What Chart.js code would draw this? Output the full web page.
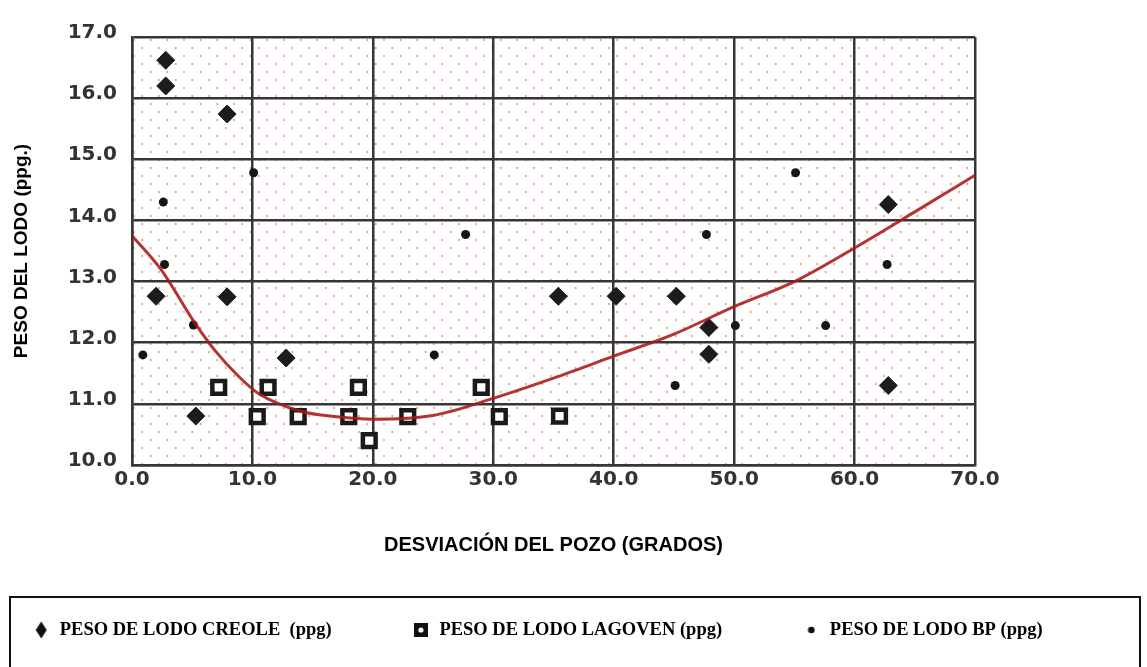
<!DOCTYPE html>
<html>
<head>
<meta charset="utf-8">
<title>Peso del lodo vs desviación del pozo</title>
<script src="https://cdn.jsdelivr.net/npm/chart.js@4/dist/chart.umd.min.js"></script>
<style>
html, body { margin: 0; padding: 0; background: #fff; }
</style>
</head>
<body>
<canvas id="chart" width="1147" height="667"></canvas>
<script>
// datos
const creole_x = [2.8, 2.8, 7.9, 2.0, 7.9, 12.8, 5.3, 35.4, 40.2, 45.2, 47.9, 47.9, 62.8, 62.8];
const creole_y = [16.62, 16.2, 15.74, 12.76, 12.75, 11.75, 10.8, 12.76, 12.76, 12.76, 12.25, 11.81, 14.26, 11.3];

const lagoven_x = [7.2, 11.3, 18.8, 29.0, 10.4, 13.8, 18.0, 22.9, 30.5, 19.7, 35.5];
const lagoven_y = [11.27, 11.27, 11.27, 11.27, 10.79, 10.79, 10.79, 10.79, 10.79, 10.4, 10.8];

const bp_x = [0.9, 2.6, 2.7, 5.1, 10.1, 25.1, 27.7, 45.1, 47.7, 50.1, 55.1, 57.6, 62.7];
const bp_y = [11.8, 14.3, 13.28, 12.29, 14.78, 11.8, 13.77, 11.3, 13.77, 12.28, 14.78, 12.28, 13.28];

const trend_x = [0, 2.4, 5.2, 6.9, 8.8, 10.5, 14, 17, 20, 25, 30, 35, 40, 45, 50, 55, 60, 65, 70];
const trend_y = [13.75, 13.2, 12.33, 11.87, 11.46, 11.17, 10.88, 10.79, 10.75, 10.81, 11.09, 11.42, 11.78, 12.14, 12.59, 13.0, 13.55, 14.14, 14.74];

const labels = [
    "PESO DE LODO CREOLE  (ppg)",
    "PESO DE LODO LAGOVEN (ppg)",
    "PESO DE LODO BP (ppg)",
];

function xy(xs, ys) {
    return xs.map((x, i) => ({x: x, y: ys[i]}));
}

// fondo punteado naranja
function dot_pattern(ctx) {
    const tile = document.createElement("canvas");
    tile.width = 50;
    tile.height = 16;
    const t = tile.getContext("2d");
    t.fillStyle = "#f0885a";
    for (const [x, y] of [[2, 3], [18.7, 3], [35.3, 3], [10.3, 11], [27, 11], [43.7, 11]]) {
        t.beginPath();
        t.arc(x, y, 0.95, 0, 2 * Math.PI);
        t.fill();
    }
    return ctx.createPattern(tile, "repeat");
}

// simbolos de la leyenda
function legend_symbol(w, h, draw) {
    const cv = document.createElement("canvas");
    cv.width = w;
    cv.height = h;
    draw(cv.getContext("2d"));
    return cv;
}

const creole_sym = legend_symbol(12, 18, c => {
    c.fillStyle = "#111";
    c.beginPath();
    c.moveTo(6, 0.5);
    c.lineTo(11.5, 9);
    c.lineTo(6, 17.5);
    c.lineTo(0.5, 9);
    c.closePath();
    c.fill();
});
const lagoven_sym = legend_symbol(14, 14, c => {
    c.fillStyle = "#111";
    c.fillRect(0, 0, 14, 14);
    c.fillStyle = "#fff";
    c.beginPath();
    c.arc(7, 7, 2.6, 0, 2 * Math.PI);
    c.fill();
});
const bp_sym = legend_symbol(8, 8, c => {
    c.fillStyle = "#111";
    c.beginPath();
    c.arc(4, 4, 3.3, 0, 2 * Math.PI);
    c.fill();
});
const legend_syms = [null, creole_sym, lagoven_sym, bp_sym];

const chart_canvas = document.getElementById("chart");
const ctx = chart_canvas.getContext("2d");
const pattern = dot_pattern(ctx);

const frame_plugin = {
    id: "frame",
    beforeDraw(chart) {
        const a = chart.chartArea;
        const c = chart.ctx;
        c.save();
        c.translate(a.left, a.top);
        c.fillStyle = pattern;
        c.fillRect(0, 0, a.right - a.left, a.bottom - a.top);
        c.restore();
    },
    afterDraw(chart) {
        const lg = chart.legend;
        const c = chart.ctx;
        c.save();
        c.strokeStyle = "#111";
        c.lineWidth = 2;
        c.strokeRect(10, lg.top + 56.25, chart.width - 17, 120);
        c.restore();
    },
};

const tick_font = {family: "DejaVu Sans", size: 20, weight: "bold"};
const grid_color = "#363636";

const chart = new Chart(chart_canvas, {
    type: "scatter",
    data: {
        datasets: [
            {
                type: "line",
                label: "tendencia",
                data: xy(trend_x, trend_y),
                borderColor: "rgba(170, 24, 24, 0.88)",
                borderWidth: 3,
                pointRadius: 0,
                cubicInterpolationMode: "monotone",
                fill: false,
            },
            {
                label: labels[0],
                data: xy(creole_x, creole_y),
                pointStyle: "rectRot",
                pointRadius: 9,
                backgroundColor: "#1c1c1c",
                borderColor: "#1c1c1c",
                borderWidth: 1,
            },
            {
                label: labels[1],
                data: xy(lagoven_x, lagoven_y),
                pointStyle: "rect",
                pointRadius: 9,
                backgroundColor: "#ffffff",
                borderColor: "#1a1a1a",
                borderWidth: 4.5,
            },
            {
                label: labels[2],
                data: xy(bp_x, bp_y),
                pointStyle: "circle",
                pointRadius: 4.5,
                backgroundColor: "#161616",
                borderColor: "#161616",
                borderWidth: 0,
            },
        ],
    },
    options: {
        responsive: false,
        animation: false,
        layout: {
            padding: {top: 37, left: -48, right: 0, bottom: 17.75},
        },
        plugins: {
            tooltip: {enabled: false},
            legend: {
                position: "bottom",
                align: "start",
                labels: {
                    usePointStyle: true,
                    boxWidth: 20,
                    boxHeight: 10,
                    padding: 80,
                    color: "#000",
                    font: {family: "Liberation Serif", size: 18.5, weight: "bold"},
                    generateLabels(chart) {
                        const items = Chart.defaults.plugins.legend.labels.generateLabels(chart);
                        return items
                            .filter(it => it.datasetIndex > 0)
                            .map(it => {
                                it.pointStyle = legend_syms[it.datasetIndex];
                                return it;
                            });
                    },
                },
            },
        },
        scales: {
            x: {
                type: "linear",
                min: 0,
                max: 70,
                afterFit: s => { s.height = 75.75; },
                grid: {color: grid_color, lineWidth: 2.5, drawTicks: false},
                border: {color: grid_color, width: 2.5},
                ticks: {
                    stepSize: 10,
                    padding: 3,
                    color: "#333",
                    font: tick_font,
                    callback: v => v.toFixed(1),
                },
                title: {
                    display: true,
                    text: "DESVIACIÓN DEL POZO (GRADOS)",
                    color: "#000",
                    font: {family: "Liberation Sans", size: 20, weight: "bold"},
                    padding: {top: 4, bottom: -16.25},
                },
            },
            y: {
                type: "linear",
                min: 10,
                max: 17,
                afterFit: s => { s.width = 180; },
                grid: {color: grid_color, lineWidth: 2.5, drawTicks: false},
                border: {color: grid_color, width: 2.5},
                ticks: {
                    stepSize: 1,
                    padding: 15,
                    labelOffset: -4,
                    color: "#333",
                    font: tick_font,
                    callback: v => v.toFixed(1),
                },
                title: {
                    display: true,
                    text: "PESO DEL LODO (ppg.)",
                    color: "#000",
                    font: {family: "Liberation Sans", size: 19, weight: "bold"},
                    padding: {top: 58, bottom: 0},
                },
            },
            yr: {
                type: "linear",
                position: "right",
                min: 0,
                max: 1,
                afterFit: s => { s.width = 172; },
                grid: {display: false},
                border: {display: false},
                ticks: {display: false},
            },
        },
    },
    plugins: [frame_plugin],
});
</script>
</body>
</html>
